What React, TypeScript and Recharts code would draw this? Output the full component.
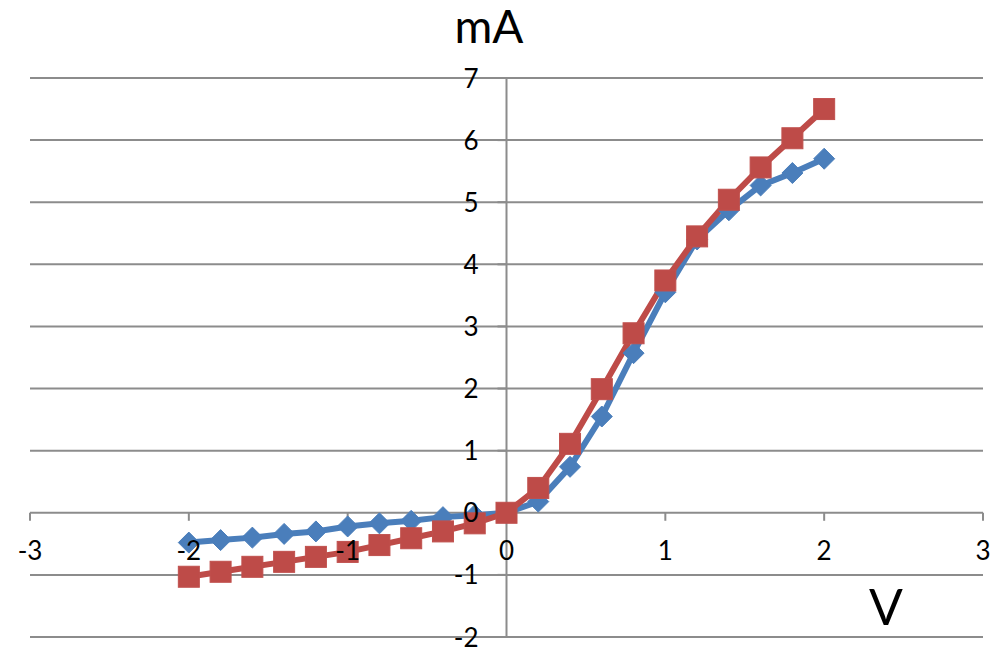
import React from 'react';
import { ComposedChart, Line, Scatter, XAxis, YAxis, ReferenceLine } from 'recharts';

const voltage = [-2, -1.8, -1.6, -1.4, -1.2, -1, -0.8, -0.6, -0.4, -0.2, 0, 0.2, 0.4, 0.6, 0.8, 1, 1.2, 1.4, 1.6, 1.8, 2];
const currentBlue = [-0.48, -0.44, -0.4, -0.34, -0.3, -0.22, -0.17, -0.13, -0.07, -0.04, 0, 0.18, 0.74, 1.55, 2.57, 3.55, 4.4, 4.87, 5.27, 5.47, 5.7];
const currentRed = [-1.03, -0.95, -0.87, -0.79, -0.71, -0.63, -0.52, -0.41, -0.3, -0.17, 0, 0.4, 1.11, 1.99, 2.89, 3.74, 4.45, 5.04, 5.56, 6.03, 6.5];
const xTicks = [-3, -2, -1, 0, 1, 2, 3];
const yTicks = [-2, -1, 0, 1, 2, 3, 4, 5, 6, 7];
const xTitle = 'V';
const yTitle = 'mA';

const blueData = voltage.map((v, i) => ({ x: v, y: currentBlue[i] }));
const redData = voltage.map((v, i) => ({ x: v, y: currentRed[i] }));
const xTickData = xTicks.map((t) => ({ x: t, y: 0, label: String(t) }));
const yTickData = yTicks.map((t) => ({ x: 0, y: t, label: String(t) }));

const FONT = 'Lato, "Open Sans", sans-serif';
const GRID = '#8c8c8c';
const BLUE = '#4a7ebb';
const RED = '#be4b48';

const Diamond = (props: any) => {
  const { cx, cy, index } = props;
  if (cx == null || cy == null) return <g key={`d${index}`} />;
  const s = 10.5;
  return (
    <polygon
      key={`d${index}`}
      points={`${cx},${cy - s} ${cx + s},${cy} ${cx},${cy + s} ${cx - s},${cy}`}
      fill={BLUE}
      stroke={BLUE}
      strokeWidth={1}
    />
  );
};

const Square = (props: any) => {
  const { cx, cy, index } = props;
  if (cx == null || cy == null) return <g key={`s${index}`} />;
  const s = 10.5;
  return <rect key={`s${index}`} x={cx - s} y={cy - s} width={2 * s} height={2 * s} fill={RED} stroke="#c0504d" strokeWidth={1} />;
};

const XTickMark = (props: any) => {
  const { cx, cy } = props;
  return <line x1={cx} y1={cy} x2={cx} y2={cy + 8} stroke={GRID} strokeWidth={2} />;
};

const YTickMark = (props: any) => {
  const { cx, cy } = props;
  return <line x1={cx - 9} y1={cy} x2={cx} y2={cy} stroke={GRID} strokeWidth={2} />;
};

const XTickLabel = (props: any) => {
  const { cx, cy, payload } = props;
  return (
    <text x={cx} y={cy + 47} textAnchor="middle" fontSize={26} fontFamily={FONT} fill="#000">
      {payload.label}
    </text>
  );
};

const YTickLabel = (props: any) => {
  const { cx, cy, payload } = props;
  return (
    <text x={cx - 28} y={cy + 9.5} textAnchor="end" fontSize={26} fontFamily={FONT} fill="#000">
      {payload.label}
    </text>
  );
};

export default function App() {
  return (
    <div style={{ position: 'relative', width: 991, height: 639, background: '#fff' }}>
      <ComposedChart
        width={991}
        height={639}
        margin={{ top: 70, right: 16, bottom: 10, left: 22 }}
        style={{ overflow: 'visible' }}
      >
        <XAxis type="number" dataKey="x" domain={[-3, 3]} ticks={xTicks} hide />
        <YAxis type="number" dataKey="y" domain={[-2, 7]} ticks={yTicks} hide />
        {yTicks.map((t) => (
          <ReferenceLine key={`g${t}`} y={t} stroke={GRID} strokeWidth={2} />
        ))}
        <ReferenceLine x={0} stroke={GRID} strokeWidth={2} />
        <Scatter data={xTickData} dataKey="y" shape={XTickMark} isAnimationActive={false} />
        <Scatter data={yTickData} dataKey="y" shape={YTickMark} isAnimationActive={false} />
        <Line
          data={blueData}
          dataKey="y"
          type="linear"
          stroke={BLUE}
          strokeWidth={6}
          dot={Diamond}
          activeDot={false}
          isAnimationActive={false}
        />
        <Line
          data={redData}
          dataKey="y"
          type="linear"
          stroke={RED}
          strokeWidth={6}
          dot={Square}
          activeDot={false}
          isAnimationActive={false}
        />
        <Scatter data={xTickData} dataKey="y" shape={XTickLabel} isAnimationActive={false} />
        <Scatter data={yTickData} dataKey="y" shape={YTickLabel} isAnimationActive={false} />
      </ComposedChart>
      <svg
        width={991}
        height={639}
        style={{ position: 'absolute', left: 0, top: 0, pointerEvents: 'none', overflow: 'visible' }}
      >
        <text x={481} y={35} textAnchor="middle" fontSize={46} fontFamily={FONT} fill="#000">
          {yTitle}
        </text>
        <text x={878} y={617} textAnchor="middle" fontSize={50} fontFamily={FONT} fill="#000">
          {xTitle}
        </text>
      </svg>
    </div>
  );
}
